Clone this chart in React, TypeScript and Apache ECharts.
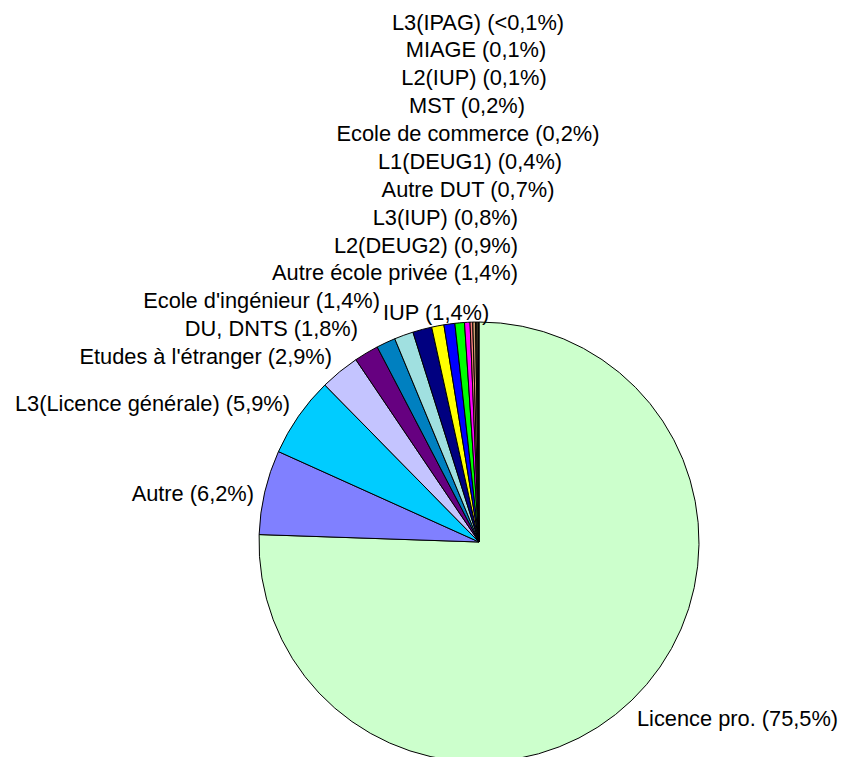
import React, { useEffect, useRef } from "react";
import * as echarts from "echarts";

const categories = [
  "Licence pro.",
  "Autre",
  "L3(Licence générale)",
  "Etudes à l'étranger",
  "DU, DNTS",
  "Ecole d'ingénieur",
  "IUP",
  "Autre école privée",
  "L2(DEUG2)",
  "L3(IUP)",
  "Autre DUT",
  "L1(DEUG1)",
  "Ecole de commerce",
  "MST",
  "L2(IUP)",
  "MIAGE",
  "L3(IPAG)",
];
const shares = [75.5, 6.2, 5.9, 2.9, 1.8, 1.4, 1.4, 1.4, 0.9, 0.8, 0.7, 0.4, 0.2, 0.2, 0.1, 0.1, 0.05];

const colors = [
  "#CCFFCC",
  "#8080FF",
  "#00CCFF",
  "#C4C4FF",
  "#660080",
  "#0080C0",
  "#A0E0E0",
  "#000080",
  "#FFFF00",
  "#0000FF",
  "#00FF00",
  "#FF00FF",
  "#FF8080",
  "#D0A070",
  "#806040",
  "#A08050",
  "#604020",
];

// label anchor positions (x, y, align)
const labelPos: [number, number, string][] = [
  [637, 718, "left"],
  [254, 493, "right"],
  [290, 403, "right"],
  [332, 356, "right"],
  [358, 328, "right"],
  [380, 300, "right"],
  [383, 312, "left"],
  [518, 272, "right"],
  [518, 245, "right"],
  [518, 217, "right"],
  [468, 189, "center"],
  [470, 161, "center"],
  [468, 133, "center"],
  [467, 105, "center"],
  [474, 77, "center"],
  [476, 49, "center"],
  [478, 22, "center"],
];

function fmt(v: number): string {
  if (v < 0.1) return "<0,1%";
  return v.toFixed(1).replace(".", ",") + "%";
}

export default function App() {
  const ref = useRef<HTMLDivElement>(null);
  useEffect(() => {
    if (!ref.current) return;
    const chart = echarts.init(ref.current, null, { renderer: "svg" });
    chart.setOption({
      animation: false,
      backgroundColor: "#FFFFFF",
      series: [
        {
          type: "pie",
          center: [479, 542],
          radius: 220,
          startAngle: 90,
          clockwise: true,
          avoidLabelOverlap: false,
          minAngle: 0,
          data: categories.map((c, i) => ({
            name: c,
            value: shares[i],
            itemStyle: { color: colors[i] },
          })),
          itemStyle: { borderColor: "#000000", borderWidth: 1 },
          label: {
            show: true,
            position: "outside",
            formatter: (p: any) => `${p.name} (${fmt(p.value)})`,
            color: "#000000",
            fontFamily: "Liberation Sans, Arial, sans-serif",
            fontSize: 21.8,
          },
          labelLine: { show: false },
          labelLayout: (params: any) => {
            const p = labelPos[params.dataIndex];
            return { x: p[0], y: p[1], align: p[2], verticalAlign: "middle", hideOverlap: false };
          },
          emphasis: { disabled: true },
        },
      ],
    });
    return () => chart.dispose();
  }, []);
  return (
    <div
      ref={ref}
      style={{ position: "fixed", left: 0, top: 0, width: 842, height: 757 }}
    />
  );
}
